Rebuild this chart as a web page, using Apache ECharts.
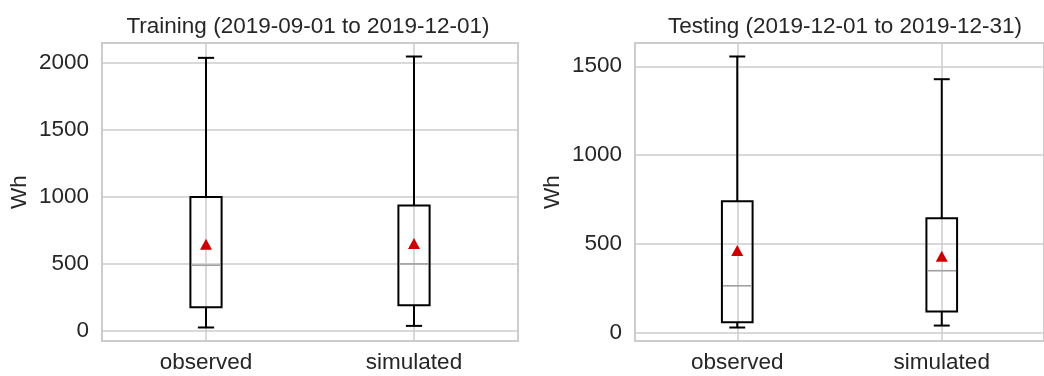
<!DOCTYPE html>
<html>
<head>
<meta charset="utf-8">
<script src="https://cdn.jsdelivr.net/npm/echarts@6/dist/echarts.min.js"></script>
<style>
html,body{margin:0;padding:0;background:#fff;}
#chart{width:1044px;height:376px;}
</style>
</head>
<body>
<div id="chart"></div>
<script>
// ---- data ----
const categories = ['observed', 'simulated'];
const titles = ['Training (2019-09-01 to 2019-12-01)', 'Testing (2019-12-01 to 2019-12-31)'];
const yName = 'Wh';

const trainLow    = [25, 37];
const trainQ1     = [177, 192];
const trainMedian = [490, 500];
const trainQ3     = [1000, 936];
const trainHigh   = [2040, 2050];
const trainMean   = [647, 652];
const trainTicks  = [0, 500, 1000, 1500, 2000];

const testLow    = [28, 39];
const testQ1     = [58, 118];
const testMedian = [263, 348];
const testQ3     = [740, 643];
const testHigh   = [1555, 1427];
const testMean   = [462, 429];
const testTicks  = [0, 500, 1000, 1500];

// ---- styles ----
const FONT = 'Liberation Sans, Arial, sans-serif';
const TXT = '#262626';
const GRID = '#cccccc';
const FS = 22.5;

function boxRows(low, q1, med, q3, high) {
  return categories.map((c, i) => [i, low[i], q1[i], med[i], q3[i], high[i]]);
}

function renderBox(params, api) {
  const x = api.value(0);
  const band = api.size([1, 0])[0];
  const bw = band * 0.15;
  const cw = bw * 0.52;
  const pLow = api.coord([x, api.value(1)]);
  const pQ1 = api.coord([x, api.value(2)]);
  const pMed = api.coord([x, api.value(3)]);
  const pQ3 = api.coord([x, api.value(4)]);
  const pHigh = api.coord([x, api.value(5)]);
  const cx = pQ1[0];
  const ls = {stroke: '#000', lineWidth: 2, fill: null};
  return {
    type: 'group',
    children: [
      {type: 'line', shape: {x1: cx, y1: pLow[1], x2: cx, y2: pQ1[1]}, style: ls},
      {type: 'line', shape: {x1: cx, y1: pQ3[1], x2: cx, y2: pHigh[1]}, style: ls},
      {type: 'line', shape: {x1: cx - cw / 2, y1: pLow[1], x2: cx + cw / 2, y2: pLow[1]}, style: ls},
      {type: 'line', shape: {x1: cx - cw / 2, y1: pHigh[1], x2: cx + cw / 2, y2: pHigh[1]}, style: ls},
      {type: 'rect', shape: {x: cx - bw / 2, y: pQ3[1], width: bw, height: pQ1[1] - pQ3[1]}, style: {stroke: '#000', lineWidth: 2, fill: 'rgba(0,0,0,0)'}},
      {type: 'line', shape: {x1: cx - bw / 2 + 1, y1: pMed[1], x2: cx + bw / 2 - 1, y2: pMed[1]}, style: {stroke: '#a0a0a0', lineWidth: 1.6}}
    ]
  };
}

function makeAxes(idx, ticks, min, max) {
  const xAxis = {
    type: 'category', gridIndex: idx, data: categories,
    axisLine: {show: false}, axisTick: {show: false},
    axisLabel: {color: TXT, fontSize: FS, fontFamily: FONT, margin: 10},
    splitLine: {show: true, alignWithLabel: true, lineStyle: {color: GRID, width: 1.5}}
  };
  const yAxis = {
    type: 'value', gridIndex: idx, min: min, max: max,
    name: yName, nameLocation: 'middle', nameGap: 71,
    nameTextStyle: {color: TXT, fontSize: FS, fontFamily: FONT},
    axisLine: {show: false},
    axisTick: {show: false, customValues: ticks},
    axisLabel: {customValues: ticks, color: TXT, fontSize: FS, fontFamily: FONT, margin: 13,
                formatter: (v) => String(Math.round(v))},
    splitLine: {show: true, lineStyle: {color: GRID, width: 1.5}}
  };
  return [xAxis, yAxis];
}

const [x0, y0] = makeAxes(0, trainTicks, -76, 2151);
const [x1, y1] = makeAxes(1, testTicks, -48, 1631);

const option = {
  animation: false,
  backgroundColor: '#ffffff',
  title: [
    {text: titles[0], left: 303, top: 10, textAlign: 'center',
     textStyle: {color: TXT, fontSize: FS, fontWeight: 'normal', fontFamily: FONT}},
    {text: titles[1], left: 840, top: 10, textAlign: 'center',
     textStyle: {color: TXT, fontSize: FS, fontWeight: 'normal', fontFamily: FONT}}
  ],
  grid: [
    {left: 102, top: 43, width: 416, height: 298, show: true, borderColor: GRID, borderWidth: 2, backgroundColor: 'transparent'},
    {left: 635, top: 43, width: 416, height: 298, show: true, borderColor: GRID, borderWidth: 2, backgroundColor: 'transparent'}
  ],
  xAxis: [x0, x1],
  yAxis: [y0, y1],
  series: [
    {type: 'custom', xAxisIndex: 0, yAxisIndex: 0, renderItem: renderBox,
     encode: {x: 0, y: [1, 2, 3, 4, 5]},
     data: boxRows(trainLow, trainQ1, trainMedian, trainQ3, trainHigh), z: 3},
    {type: 'custom', xAxisIndex: 1, yAxisIndex: 1, renderItem: renderBox,
     encode: {x: 0, y: [1, 2, 3, 4, 5]},
     data: boxRows(testLow, testQ1, testMedian, testQ3, testHigh), z: 3},
    {type: 'scatter', xAxisIndex: 0, yAxisIndex: 0, symbol: 'triangle', symbolSize: [12, 11],
     itemStyle: {color: '#cc0000', opacity: 1}, data: categories.map((c, i) => [i, trainMean[i]]), z: 5},
    {type: 'scatter', xAxisIndex: 1, yAxisIndex: 1, symbol: 'triangle', symbolSize: [12, 11],
     itemStyle: {color: '#cc0000', opacity: 1}, data: categories.map((c, i) => [i, testMean[i]]), z: 5}
  ]
};

const chart = echarts.init(document.getElementById('chart'), null, {renderer: 'canvas'});
chart.setOption(option);
</script>
</body>
</html>
